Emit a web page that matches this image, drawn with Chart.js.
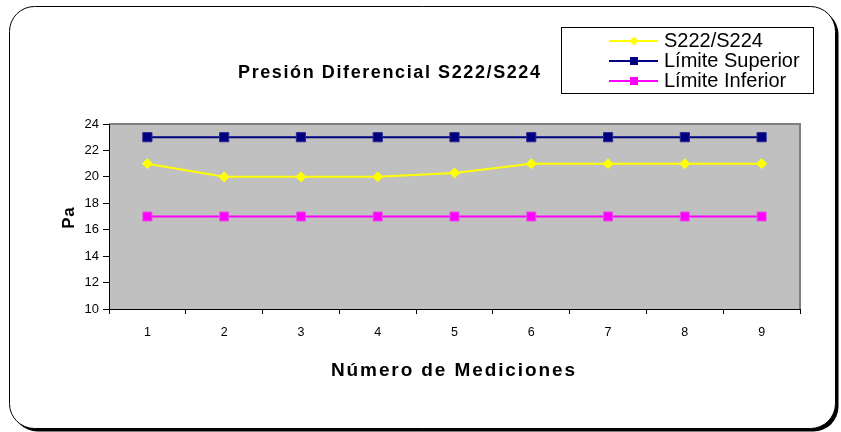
<!DOCTYPE html>
<html>
<head>
<meta charset="utf-8">
<script src="https://cdn.jsdelivr.net/npm/chart.js@4/dist/chart.umd.min.js"></script>
<style>
  html, body { margin: 0; padding: 0; background: #ffffff; }
  #wrap { width: 841px; height: 432px; position: relative; }
</style>
</head>
<body>
<div id="wrap"><canvas id="c" width="841" height="432"></canvas></div>
<script>
// Measurement data
const categories = ['1', '2', '3', '4', '5', '6', '7', '8', '9'];
const seriesNames = ['S222/S224', 'Límite Superior', 'Límite Inferior'];
const s222s224 = [21, 20, 20, 20, 20.3, 21, 21, 21, 21];
const limiteSuperior = [23, 23, 23, 23, 23, 23, 23, 23, 23];
const limiteInferior = [17, 17, 17, 17, 17, 17, 17, 17, 17];
const yTicks = [10, 12, 14, 16, 18, 20, 22, 24];

const chartTitle = 'Presión Diferencial S222/S224';
const xTitle = 'Número de Mediciones';
const yTitle = 'Pa';

const FONT = '"Liberation Sans", Arial, sans-serif';

// Rounded frame with drop shadow, grey plot background
const framePlugin = {
  id: 'frame',
  beforeDraw(chart) {
    const ctx = chart.ctx;
    const { left, top, right, bottom } = chart.chartArea;
    ctx.save();
    ctx.fillStyle = '#ffffff';
    ctx.fillRect(0, 0, chart.width, chart.height);

    const rr = (x, y, w, h, r) => {
      ctx.beginPath();
      ctx.moveTo(x + r, y);
      ctx.lineTo(x + w - r, y);
      ctx.arcTo(x + w, y, x + w, y + r, r);
      ctx.lineTo(x + w, y + h - r);
      ctx.arcTo(x + w, y + h, x + w - r, y + h, r);
      ctx.lineTo(x + r, y + h);
      ctx.arcTo(x, y + h, x, y + h - r, r);
      ctx.lineTo(x, y + r);
      ctx.arcTo(x, y, x + r, y, r);
      ctx.closePath();
    };
    // shadow
    rr(12.5, 9.5, 826, 422, 25);
    ctx.fillStyle = '#000000';
    ctx.fill();
    // frame
    rr(9.5, 6.5, 826, 422, 25);
    ctx.fillStyle = '#ffffff';
    ctx.fill();
    ctx.lineWidth = 1;
    ctx.strokeStyle = '#000000';
    ctx.stroke();

    // plot area
    ctx.fillStyle = '#c0c0c0';
    ctx.fillRect(left, top, right - left, bottom - top);
    ctx.strokeStyle = '#808080';
    ctx.lineWidth = 2;
    ctx.beginPath();
    ctx.moveTo(left, top);
    ctx.lineTo(right, top);
    ctx.lineTo(right, bottom);
    ctx.stroke();
    ctx.restore();
  }
};

// Titles and boxed legend
const textPlugin = {
  id: 'texts',
  afterDraw(chart) {
    const ctx = chart.ctx;
    ctx.save();
    ctx.fillStyle = '#000000';
    ctx.textBaseline = 'alphabetic';
    ctx.textAlign = 'left';

    const spaced = (text, cx, y, font, ls) => {
      ctx.font = font;
      ctx.letterSpacing = ls + 'px';
      const w = ctx.measureText(text).width - ls;
      ctx.fillText(text, cx - w / 2, y);
      ctx.letterSpacing = '0px';
    };

    // chart title
    spaced(chartTitle, 389, 78, 'bold 18px ' + FONT, 1.6);
    // x axis title
    spaced(xTitle, 453, 376, 'bold 19px ' + FONT, 1.9);
    // y axis title
    ctx.save();
    ctx.translate(73.5, 218);
    ctx.rotate(-Math.PI / 2);
    spaced(yTitle, 0, 0, 'bold 17px ' + FONT, 0.5);
    ctx.restore();

    // legend box
    ctx.fillStyle = '#ffffff';
    ctx.fillRect(561, 27, 252, 66);
    ctx.strokeStyle = '#000000';
    ctx.lineWidth = 1;
    ctx.strokeRect(561.5, 27.5, 252, 66);

    ctx.font = '20px ' + FONT;
    chart.data.datasets.forEach((ds, i) => {
      const baseY = 47 + i * 20;
      const cy = baseY - 6;
      ctx.strokeStyle = ds.borderColor;
      ctx.lineWidth = 2;
      ctx.beginPath();
      ctx.moveTo(609, cy);
      ctx.lineTo(658, cy);
      ctx.stroke();
      ctx.fillStyle = ds.pointBackgroundColor;
      if (ds.pointStyle === 'rectRot') {
        ctx.beginPath();
        ctx.moveTo(634, cy - 4.5);
        ctx.lineTo(638.5, cy);
        ctx.lineTo(634, cy + 4.5);
        ctx.lineTo(629.5, cy);
        ctx.closePath();
        ctx.fill();
      } else {
        ctx.fillRect(630, cy - 4, 8, 8);
      }
      ctx.fillStyle = '#000000';
      ctx.fillText(ds.label, 664, baseY);
    });
    ctx.restore();
  }
};

const Y_AXIS_W = 40;
const X_AXIS_H = 30;

new Chart(document.getElementById('c'), {
  type: 'line',
  data: {
    labels: categories,
    datasets: [
      {
        label: seriesNames[0],
        data: s222s224,
        borderColor: '#ffff00',
        backgroundColor: '#ffff00',
        pointBackgroundColor: '#ffff00',
        pointBorderColor: '#ffff00',
        pointStyle: 'rectRot',
        pointRadius: 5,
        pointBorderWidth: 1,
        borderWidth: 2,
        tension: 0
      },
      {
        label: seriesNames[1],
        data: limiteSuperior,
        borderColor: '#000080',
        backgroundColor: '#000080',
        pointBackgroundColor: '#000080',
        pointBorderColor: '#2a2a90',
        pointStyle: 'rect',
        pointRadius: 6.5,
        pointBorderWidth: 1,
        borderWidth: 2,
        tension: 0
      },
      {
        label: seriesNames[2],
        data: limiteInferior,
        borderColor: '#ff00ff',
        backgroundColor: '#ff00ff',
        pointBackgroundColor: '#ff00ff',
        pointBorderColor: '#e060e0',
        pointStyle: 'rect',
        pointRadius: 6.5,
        pointBorderWidth: 1,
        borderWidth: 2,
        tension: 0
      }
    ]
  },
  options: {
    responsive: false,
    animation: false,
    devicePixelRatio: 1,
    layout: {
      padding: { top: 124, right: 41, bottom: 432 - 309 - X_AXIS_H, left: 109 - Y_AXIS_W }
    },
    plugins: {
      legend: { display: false },
      title: { display: false },
      tooltip: { enabled: false }
    },
    scales: {
      x: {
        type: 'category',
        offset: true,
        afterFit(scale) { scale.height = X_AXIS_H; },
        grid: {
          offset: true,
          drawOnChartArea: false,
          drawTicks: true,
          tickLength: 5,
          color: '#000000'
        },
        border: { display: true, color: '#000000', width: 1 },
        ticks: {
          color: '#000000',
          padding: 11,
          maxRotation: 0,
          font: { family: FONT, size: 12.5 }
        }
      },
      y: {
        min: yTicks[0],
        max: yTicks[yTicks.length - 1],
        afterFit(scale) { scale.width = Y_AXIS_W; },
        afterBuildTicks(scale) { scale.ticks = yTicks.map(v => ({ value: v })); },
        grid: {
          drawOnChartArea: false,
          drawTicks: true,
          tickLength: 6,
          color: '#000000'
        },
        border: { display: true, color: '#000000', width: 1 },
        ticks: {
          color: '#000000',
          padding: 4,
          font: { family: FONT, size: 13 }
        }
      }
    }
  },
  plugins: [framePlugin, textPlugin]
});
</script>
</body>
</html>
